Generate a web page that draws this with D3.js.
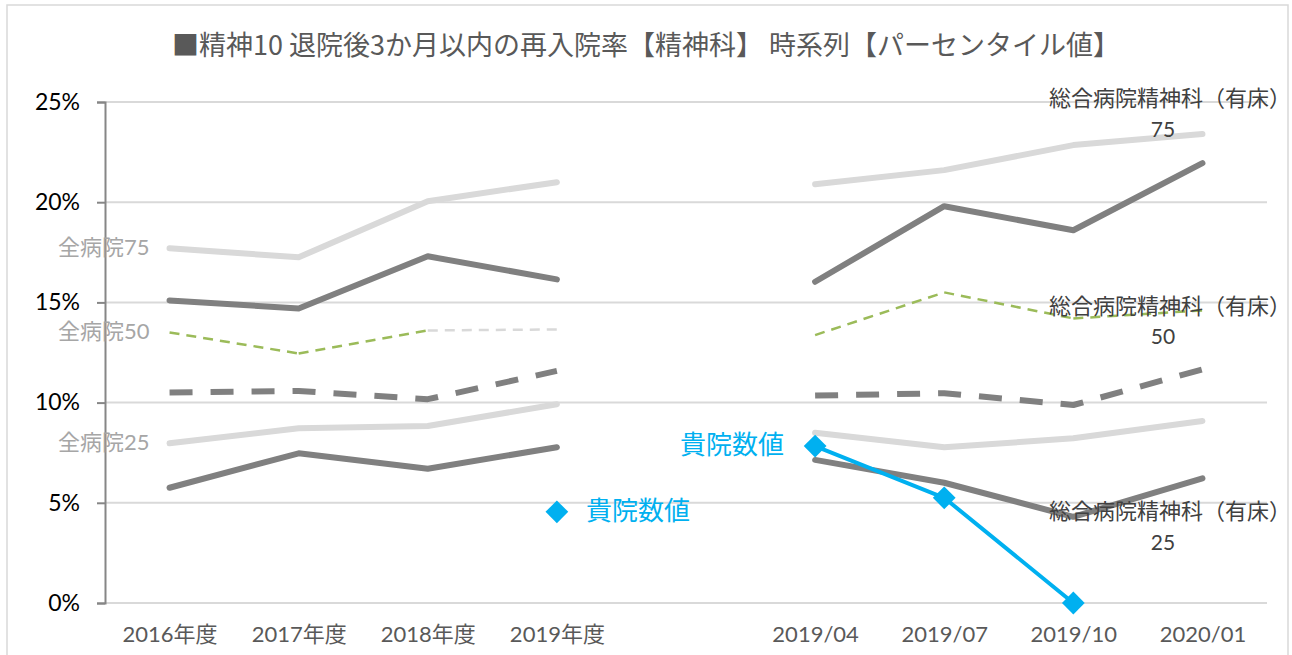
<!DOCTYPE html>
<html>
<head>
<meta charset="utf-8">
<script src="https://cdn.jsdelivr.net/npm/d3@7"></script>
<style>
  body { margin: 0; background: #fff; }
  text { font-family: Lato, "Noto Sans CJK JP", sans-serif; }
</style>
</head>
<body>
<svg id="chart"></svg>
<script>
// categories (the empty slot is the gap between the yearly and quarterly parts)
var categories = ["2016年度", "2017年度", "2018年度", "2019年度", " ", "2019/04", "2019/07", "2019/10", "2020/01"];
var yTicks = [0, 5, 10, 15, 20, 25];

// series values (%)
var upperLight = [17.7, 17.25, 20.05, 21.0, null, 20.9, 21.6, 22.85, 23.4];
var upperDark  = [15.1, 14.7, 17.3, 16.15, null, 16.03, 19.8, 18.6, 21.95];
var medianGreen = [13.5, 12.45, 13.6, 13.65, null, 13.37, 15.5, 14.2, 14.6];
var medianDark = [10.5, 10.58, 10.17, 11.58, null, 10.35, 10.47, 9.88, 11.66];
var lowerLight = [7.97, 8.72, 8.83, 9.92, null, 8.5, 7.77, 8.22, 9.08];
var lowerDark  = [5.75, 7.47, 6.7, 7.77, null, 7.14, 6.0, 4.3, 6.22];
var ownValues  = [null, null, null, 4.55, null, 7.83, 5.25, 0, null];

var title = "■精神10 退院後3か月以内の再入院率【精神科】 時系列【パーセンタイル値】";

var screen = { width: 1292, height: 655 };
var margins = { top: 102, bottom: 52, left: 105, right: 25 };

var svg = d3.select("#chart")
            .attr("width", screen.width)
            .attr("height", screen.height);

// outer frame
svg.append("rect")
   .attr("x", 7).attr("y", 5)
   .attr("width", 1281).attr("height", 670)
   .attr("fill", "#fff")
   .attr("stroke", "#d9d9d9")
   .attr("stroke-width", 1.5);

svg.append("text")
   .attr("x", 646).attr("y", 55)
   .attr("text-anchor", "middle")
   .attr("font-size", 27)
   .attr("fill", "#595959")
   .style("font-family", "'Noto Sans CJK JP', sans-serif")
   .text(title);

var xScale = d3.scalePoint()
               .domain(categories)
               .range([margins.left, screen.width - margins.right])
               .padding(0.5);

var yScale = d3.scaleLinear()
               .domain([0, 25])
               .range([screen.height - margins.bottom, margins.top]);

// grid
svg.append("g")
   .selectAll("line")
   .data(yTicks)
   .enter()
   .append("line")
   .attr("x1", margins.left)
   .attr("x2", screen.width - margins.right)
   .attr("y1", function(d) { return yScale(d); })
   .attr("y2", function(d) { return yScale(d); })
   .attr("stroke", "#d9d9d9")
   .attr("stroke-width", 2);

// y axis
var yAxis = d3.axisLeft(yScale)
              .tickValues(yTicks)
              .tickSize(8)
              .tickPadding(17)
              .tickFormat(function(d) { return d + "%"; });

var yAxisGraphic = svg.append("g")
                      .attr("transform", "translate(" + margins.left + ",0)")
                      .call(yAxis);
yAxisGraphic.select(".domain").attr("stroke", "#868686").attr("stroke-width", 2);
yAxisGraphic.selectAll(".tick line").attr("stroke", "#868686").attr("stroke-width", 2);
yAxisGraphic.selectAll(".tick text")
            .attr("font-size", 23)
            .attr("fill", "#000")
            .style("font-family", "Lato, sans-serif");

// x axis (labels only)
var xAxis = d3.axisBottom(xScale).tickSize(0).tickPadding(23);
var xAxisGraphic = svg.append("g")
                      .attr("transform", "translate(0," + yScale(0) + ")")
                      .call(xAxis);
xAxisGraphic.select(".domain").remove();
xAxisGraphic.selectAll(".tick text")
            .attr("font-size", 22)
            .attr("fill", "#595959");

var line = d3.line()
             .defined(function(d) { return d != null; })
             .x(function(d, i) { return xScale(categories[i]); })
             .y(function(d) { return yScale(d); });

var drawLine = function(values, color, width, dash)
{
  svg.append("path")
     .datum(values)
     .attr("d", line)
     .attr("fill", "none")
     .attr("stroke", color)
     .attr("stroke-width", width)
     .attr("stroke-linejoin", "round")
     .attr("stroke-linecap", dash ? "butt" : "round")
     .attr("stroke-dasharray", dash || null);
};

drawLine(upperLight, "#d9d9d9", 6);
drawLine(lowerLight, "#d9d9d9", 6);
drawLine(upperDark, "#808080", 6);
drawLine(lowerDark, "#808080", 6);
drawLine(medianDark, "#808080", 6, "23,18");

// median (green); last yearly segment drawn in light grey
var greenSegs = [];
for (var i = 1; i < medianGreen.length; i++)
{
  if (medianGreen[i - 1] != null && medianGreen[i] != null)
    greenSegs.push({ a: i - 1, b: i });
}
svg.append("g")
   .selectAll("line")
   .data(greenSegs)
   .enter()
   .append("line")
   .attr("x1", function(d) { return xScale(categories[d.a]); })
   .attr("y1", function(d) { return yScale(medianGreen[d.a]); })
   .attr("x2", function(d) { return xScale(categories[d.b]); })
   .attr("y2", function(d) { return yScale(medianGreen[d.b]); })
   .attr("stroke", function(d) { return d.b == 3 ? "#d9d9d9" : "#9bbb59"; })
   .attr("stroke-width", 2.5)
   .attr("stroke-dasharray", "10,7");

// own hospital
drawLine(ownValues, "#00b0f0", 4);
svg.append("g")
   .selectAll("path")
   .data(ownValues.map(function(v, i) { return { v: v, i: i }; })
                  .filter(function(d) { return d.v != null; }))
   .enter()
   .append("path")
   .attr("d", d3.symbol().type(d3.symbolDiamond2).size(330))
   .attr("transform", function(d) {
     return "translate(" + xScale(categories[d.i]) + "," + yScale(d.v) + ")";
   })
   .attr("fill", "#00b0f0");

// data labels
var label = function(x, y, txt, color, size, anchor)
{
  svg.append("text")
     .attr("x", x).attr("y", y)
     .attr("text-anchor", anchor)
     .attr("dominant-baseline", "middle")
     .attr("font-size", size)
     .attr("fill", color)
     .text(txt);
};

var x0 = xScale(categories[0]);
label(x0 - 20, yScale(upperLight[0]) + 1, "全病院75", "#a6a6a6", 22, "end");
label(x0 - 20, yScale(medianGreen[0]) + 1, "全病院50", "#a6a6a6", 22, "end");
label(x0 - 20, yScale(lowerLight[0]) + 1, "全病院25", "#a6a6a6", 22, "end");

label(xScale(categories[3]) + 29, yScale(ownValues[3]) + 2, "貴院数値", "#00b0f0", 26, "start");
label(xScale(categories[5]) - 31, yScale(ownValues[5]) + 1, "貴院数値", "#00b0f0", 26, "end");

var xr = 1291;
var xm = 1163;
label(xr, yScale(upperLight[8]) - 34, "総合病院精神科（有床）", "#404040", 22, "end");
label(xm, yScale(upperLight[8]) - 2, "75", "#404040", 21, "middle");
label(xr, yScale(medianGreen[8]) - 2, "総合病院精神科（有床）", "#404040", 22, "end");
label(xm, yScale(medianGreen[8]) + 28, "50", "#404040", 21, "middle");
label(xr, yScale(lowerDark[7]) - 3, "総合病院精神科（有床）", "#404040", 22, "end");
label(xm, yScale(lowerDark[7]) + 28, "25", "#404040", 21, "middle");
</script>
</body>
</html>
